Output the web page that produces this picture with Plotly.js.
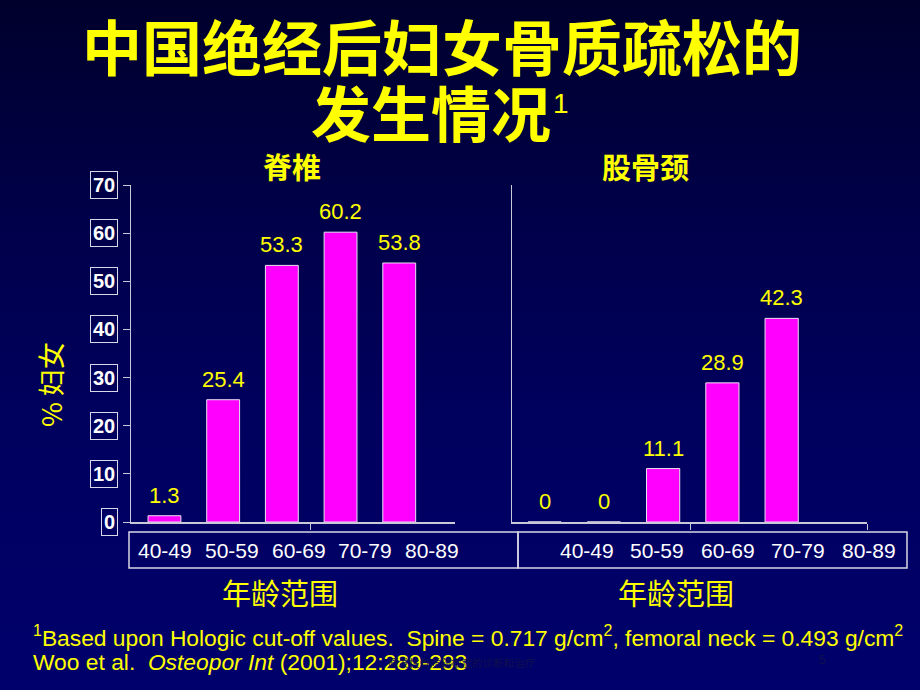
<!DOCTYPE html>
<html>
<head>
<meta charset="utf-8">
<script src="https://cdn.plot.ly/plotly-3.0.1.min.js"></script>
<style>
  html, body { margin:0; padding:0; }
  body { width:920px; height:690px; overflow:hidden;
         background: linear-gradient(180deg, #00002c 0%, #000048 30%, #00005e 60%, #00006c 100%); }
  #chart { width:920px; height:690px; }
</style>
</head>
<body>
<div id="chart"></div>
<script>
// ---- data ----
const categories = ["40-49", "50-59", "60-69", "70-79", "80-89"];
const spineValues = [1.3, 25.4, 53.3, 60.2, 53.8];
const neckValues = [0, 0, 11.1, 28.9, 42.3];
const spineLabels = ["1.3", "25.4", "53.3", "60.2", "53.8"];
const neckLabels = ["0", "0", "11.1", "28.9", "42.3"];
const yTicks = [0, 10, 20, 30, 40, 50, 60, 70];
const titleLine1 = "中国绝经后妇女骨质疏松的";
const titleLine2 = "发生情况";
const titleNote = "1";
const panelTitles = ["脊椎", "股骨颈"];
const yTitle = "% 妇女";
const xTitle = "年龄范围";
const footnote1 = "<sup>1</sup>Based upon Hologic cut-off values.  Spine = 0.717 g/cm<sup>2</sup>, femoral neck = 0.493 g/cm<sup>2</sup>";
const footnote2 = "Woo et al.  <i>Osteopor Int</i> (2001);12:289-293";
const watermark = "原发性骨质疏松症的诊断和治疗";
const pageNo = "5";

// ---- helpers (pixel -> paper) ----
const W = 920, H = 690;
const px = v => v / W;
const py = v => 1 - v / H;

const YELLOW = "#ffff00";
const MAGENTA = "#ff00ff";
const AXIS = "#c8c8d8";
const SANS = "Liberation Sans, Arial, sans-serif";
const CJK = "Noto Sans CJK SC, sans-serif";

const idx = categories.map((_, i) => i);

const barStyle = {
  type: "bar", cliponaxis: false, width: 0.56,
  marker: { color: MAGENTA, line: { color: "#e8e0f0", width: 1 } },
  hoverinfo: "skip"
};

const traces = [
  Object.assign({}, barStyle, { x: idx, y: spineValues, xaxis: "x", yaxis: "y" }),
  Object.assign({}, barStyle, { x: idx, y: neckValues, xaxis: "x2", yaxis: "y2" })
];

const yDomain = [py(522), py(185)];

function txt(x, y, text, font, extra) {
  return Object.assign({ xref: "paper", yref: "paper", x: px(x), y: py(y), text: text,
    showarrow: false, xanchor: "center", yanchor: "middle", font: font }, extra || {});
}

const annotations = [];
// value labels above bars (data coordinates)
idx.forEach(i => {
  annotations.push({ xref: "x", yref: "y", x: i, y: spineValues[i], text: spineLabels[i],
    showarrow: false, xanchor: "center", yanchor: "bottom", yshift: 6,
    font: { family: SANS, size: 22, color: YELLOW } });
  annotations.push({ xref: "x2", yref: "y2", x: i, y: neckValues[i], text: neckLabels[i],
    showarrow: false, xanchor: "center", yanchor: "bottom", yshift: 6,
    font: { family: SANS, size: 22, color: YELLOW } });
});
// title
annotations.push(txt(442, 45, titleLine1, { family: CJK, size: 60, color: YELLOW, weight: 700 }));
annotations.push(txt(431, 110, titleLine2, { family: CJK, size: 60, color: YELLOW, weight: 700 }));
annotations.push(txt(561, 104, titleNote, { family: SANS, size: 28, color: YELLOW }));
// panel titles
annotations.push(txt(292, 166, panelTitles[0], { family: CJK, size: 29, color: YELLOW, weight: 700 }));
annotations.push(txt(645, 166, panelTitles[1], { family: CJK, size: 29, color: YELLOW, weight: 700 }));
// y title
annotations.push(txt(50, 385, yTitle, { family: CJK, size: 27, color: YELLOW }, { textangle: -90 }));
// x titles
annotations.push(txt(280, 592, xTitle, { family: CJK, size: 29, color: YELLOW }));
annotations.push(txt(676, 592, xTitle, { family: CJK, size: 29, color: YELLOW }));
// y tick labels in boxes
yTicks.forEach(v => annotations.push({ xref: "paper", yref: "y", x: px(118), y: v,
  text: String(v), showarrow: false, xanchor: "right", yanchor: "middle",
  bordercolor: "#d8d8e8", borderwidth: 1, borderpad: 2,
  font: { family: SANS, size: 20, color: "#ffffff", weight: 700 } }));
// category labels in boxes
categories.forEach((c, i) => {
  annotations.push(txt(165 + i * 66.75, 550, c, { family: SANS, size: 21, color: "#ffffff" }));
  annotations.push(txt(587 + i * 70.4, 550, c, { family: SANS, size: 21, color: "#ffffff" }));
});
// footnotes
annotations.push(txt(31, 636, footnote1, { family: SANS, size: 22.8, color: YELLOW }, { xanchor: "left" }));
annotations.push(txt(31, 662, footnote2, { family: SANS, size: 22.8, color: YELLOW }, { xanchor: "left" }));
annotations.push(txt(386, 662, watermark, { family: CJK, size: 10.5, color: "#10104a" }, { xanchor: "left" }));
annotations.push(txt(822, 660, pageNo, { family: SANS, size: 12, color: "#10104a" }));

const shapes = [
  { type: "rect", xref: "paper", yref: "paper", x0: px(129), x1: px(518), y0: py(532), y1: py(568),
    line: { color: "#d8d8e8", width: 1.5 } },
  { type: "rect", xref: "paper", yref: "paper", x0: px(518), x1: px(907), y0: py(532), y1: py(568),
    line: { color: "#d8d8e8", width: 1.5 } }
];

const axisCommon = { showgrid: false, zeroline: false, showline: true, linecolor: AXIS,
  linewidth: 1.5, tickcolor: AXIS, showticklabels: false, fixedrange: true };

const layout = {
  width: W, height: H,
  margin: { l: 0, r: 0, t: 0, b: 0 },
  paper_bgcolor: "rgba(0,0,0,0)",
  plot_bgcolor: "rgba(0,0,0,0)",
  showlegend: false,
  xaxis: Object.assign({}, axisCommon, { domain: [px(131), px(455)], range: [-0.57, 4.95], anchor: "y",
    ticks: "outside", tickvals: [2.48], ticklen: 6 }),
  yaxis: Object.assign({}, axisCommon, { domain: yDomain, range: [0, 70], anchor: "x",
    ticks: "outside", tickvals: yTicks, ticklen: 7 }),
  xaxis2: Object.assign({}, axisCommon, { domain: [px(512), px(867)], range: [-0.55, 5.44], anchor: "y2",
    ticks: "outside", tickvals: [2.47, 5.44], ticklen: 6 }),
  yaxis2: Object.assign({}, axisCommon, { domain: yDomain, range: [0, 70], anchor: "x2", ticks: "" }),
  annotations: annotations,
  shapes: shapes
};

Plotly.newPlot("chart", traces, layout, { staticPlot: true, displayModeBar: false });
</script>
</body>
</html>
